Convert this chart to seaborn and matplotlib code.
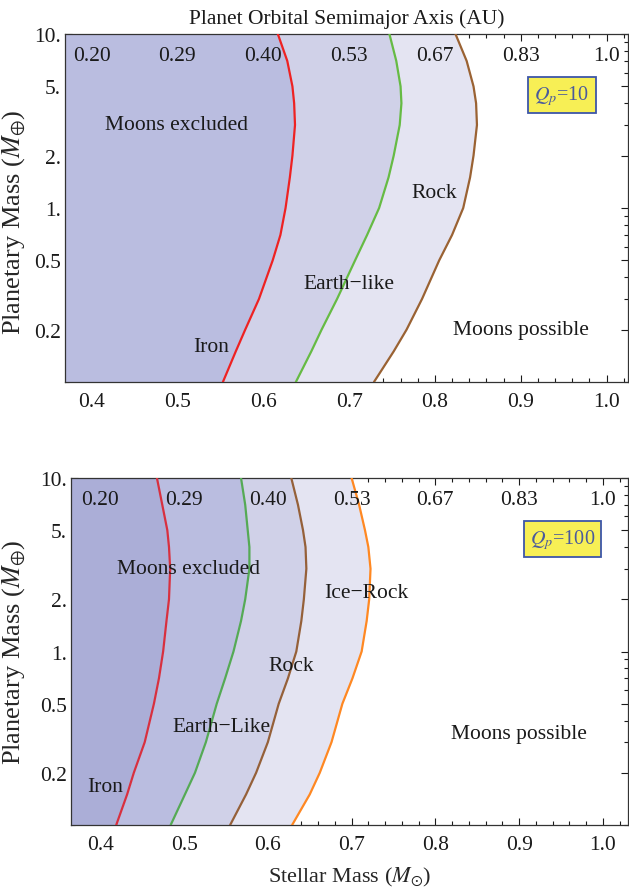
import numpy as np
import pandas as pd
import seaborn as sns
import matplotlib.pyplot as plt
from matplotlib.ticker import FixedLocator, FixedFormatter
from matplotlib.transforms import blended_transform_factory

# planetary mass samples (Earth masses), shared by all boundary curves
planet_mass = [0.1, 0.15, 0.2, 0.3, 0.5, 0.7, 1, 1.5, 2, 3, 4, 5, 7, 10]

# Q_p = 10 : stellar mass at which moons become possible
q10_iron = [0.553, 0.568, 0.579, 0.595, 0.611, 0.620, 0.626, 0.631, 0.634,
            0.637, 0.636, 0.634, 0.628, 0.617]
q10_earth = [0.638, 0.656, 0.668, 0.686, 0.707, 0.721, 0.735, 0.746, 0.752,
             0.759, 0.761, 0.760, 0.755, 0.747]
q10_rock = [0.729, 0.752, 0.767, 0.785, 0.805, 0.820, 0.833, 0.841, 0.845,
            0.849, 0.848, 0.845, 0.837, 0.824]

# Q_p = 100
q100_iron = [0.419, 0.432, 0.440, 0.453, 0.464, 0.470, 0.475, 0.479, 0.482,
             0.4834, 0.482, 0.480, 0.474, 0.4676]
q100_earth = [0.484, 0.501, 0.513, 0.526, 0.539, 0.549, 0.559, 0.568, 0.573,
              0.578, 0.578, 0.576, 0.573, 0.568]
q100_rock = [0.555, 0.574, 0.586, 0.600, 0.613, 0.624, 0.634, 0.640, 0.643,
             0.646, 0.645, 0.642, 0.636, 0.628]
q100_icerock = [0.629, 0.650, 0.662, 0.676, 0.689, 0.701, 0.712, 0.718, 0.721,
                0.7226, 0.720, 0.716, 0.709, 0.700]

# top (semimajor axis) labels placed at these stellar masses
sma_pos = [0.4, 0.5, 0.6, 0.7, 0.8, 0.9, 1.0]
sma_labels = ['0.20', '0.29', '0.40', '0.53', '0.67', '0.83', '1.0']

x_ticks = [0.4, 0.5, 0.6, 0.7, 0.8, 0.9, 1.0]
y_ticks = [0.2, 0.5, 1, 2, 5, 10]
y_ticklabels = ['0.2', '0.5', '1.', '2.', '5.', '10.']
y_minor = [0.1, 0.3, 0.4, 0.6, 0.7, 0.8, 0.9, 3, 4, 6, 7, 8, 9]

shades = ['#abaed7', '#babde0', '#d0d1e8', '#e4e4f2']
FS = 15.5

sns.set_theme(style='ticks')
plt.rcParams['font.family'] = ['Liberation Serif', 'DejaVu Serif']
plt.rcParams['mathtext.fontset'] = 'stix'

fig = plt.figure(figsize=(6.29, 8.95), dpi=100)
ax1 = fig.add_axes([65/629, 1-383/895, 563/629, 348/895])
ax2 = fig.add_axes([71/629, 1-826/895, 557/629, 347/895])


def draw_panel(ax, curves, colors, fills, xlim):
    df = pd.DataFrame({'M': planet_mass})
    left = [xlim[0]] * len(planet_mass)
    for i, c in enumerate(curves):
        ax.fill_betweenx(df['M'], left, c, color=fills[i], lw=0, zorder=1)
        left = c
    for c, col in zip(curves, colors):
        sns.lineplot(x=c, y=df['M'], orient='y', ax=ax, color=col, lw=1.6,
                     zorder=3)
    ax.set_yscale('log')
    ax.set_xlim(*xlim)
    ax.set_ylim(0.1, 10)
    ax.xaxis.set_major_locator(FixedLocator(x_ticks))
    ax.xaxis.set_major_formatter(FixedFormatter(['%.1f' % v for v in x_ticks]))
    ax.xaxis.set_minor_locator(FixedLocator(np.round(np.arange(0.36, 1.04, 0.02), 2)))
    ax.yaxis.set_major_locator(FixedLocator(y_ticks))
    ax.yaxis.set_major_formatter(FixedFormatter(y_ticklabels))
    ax.yaxis.set_minor_locator(FixedLocator(y_minor))
    ax.yaxis.set_minor_formatter(FixedFormatter([''] * len(y_minor)))
    ax.tick_params(which='both', direction='in', top=True, right=True,
                   labelsize=FS, colors='#1a1a1a', width=0.8)
    ax.tick_params(which='major', length=5)
    ax.tick_params(which='minor', length=3)
    ax.tick_params(axis='x', pad=7)
    ax.tick_params(axis='y', pad=3)
    for s in ax.spines.values():
        s.set_linewidth(0.9)
        s.set_color('#333333')
    ax.set_ylabel(r'Planetary Mass ($M_{\oplus}$)', fontsize=19)
    ax.set_xlabel('')
    tr = blended_transform_factory(ax.transData, ax.transAxes)
    for p, lab in zip(sma_pos, sma_labels):
        ax.text(p, 0.937, lab, transform=tr, ha='center', va='center',
                fontsize=FS, color='#1a1a1a', zorder=4)


draw_panel(ax1, [q10_iron, q10_earth, q10_rock],
           ['#ee2222', '#66bb44', '#9a6233'], shades[1:], (0.369, 1.025))
draw_panel(ax2, [q100_iron, q100_earth, q100_rock, q100_icerock],
           ['#d8303f', '#55aa55', '#956039', '#ff8822'], shades, (0.365, 1.03))
ax1.yaxis.set_label_coords(-0.0657, 0.463)
ax2.yaxis.set_label_coords(-0.0772, 0.50)

lab_kw = dict(ha='center', va='center', fontsize=FS, color='#1a1a1a', zorder=5)
ax1.text(0.499, 3.0, 'Moons excluded', **lab_kw)
ax1.text(0.799, 1.22, 'Rock', **lab_kw)
ax1.text(0.700, 0.366, 'Earth\u2212like', **lab_kw)
ax1.text(0.5395, 0.161, 'Iron', **lab_kw)
ax1.text(0.90, 0.20, 'Moons possible', **lab_kw)

ax2.text(0.505, 2.99, 'Moons excluded', **lab_kw)
ax2.text(0.718, 2.2, 'Ice\u2212Rock', **lab_kw)
ax2.text(0.628, 0.825, 'Rock', **lab_kw)
ax2.text(0.545, 0.372, 'Earth\u2212Like', **lab_kw)
ax2.text(0.406, 0.166, 'Iron', **lab_kw)
ax2.text(0.90, 0.335, 'Moons possible', **lab_kw)

box = dict(boxstyle='square,pad=0.3', fc='#f7ef55', ec='#3d56a8', lw=1.3)
ax1.text(0.948, 4.46, r'$Q_p$=10', ha='center', va='center', fontsize=FS - 1,
         color='#4a5a9c', bbox=box, zorder=5)
ax2.text(0.952, 4.45, r'$Q_p$=100', ha='center', va='center', fontsize=FS - 1,
         color='#4a5a9c', bbox=box, zorder=5)

ax1.set_title('Planet Orbital Semimajor Axis (AU)', fontsize=FS, pad=8,
              color='#1a1a1a')
ax2.set_xlabel(r'Stellar Mass ($M_{\odot}$)', fontsize=16, labelpad=8)

fig.savefig('out.png', dpi=100)
